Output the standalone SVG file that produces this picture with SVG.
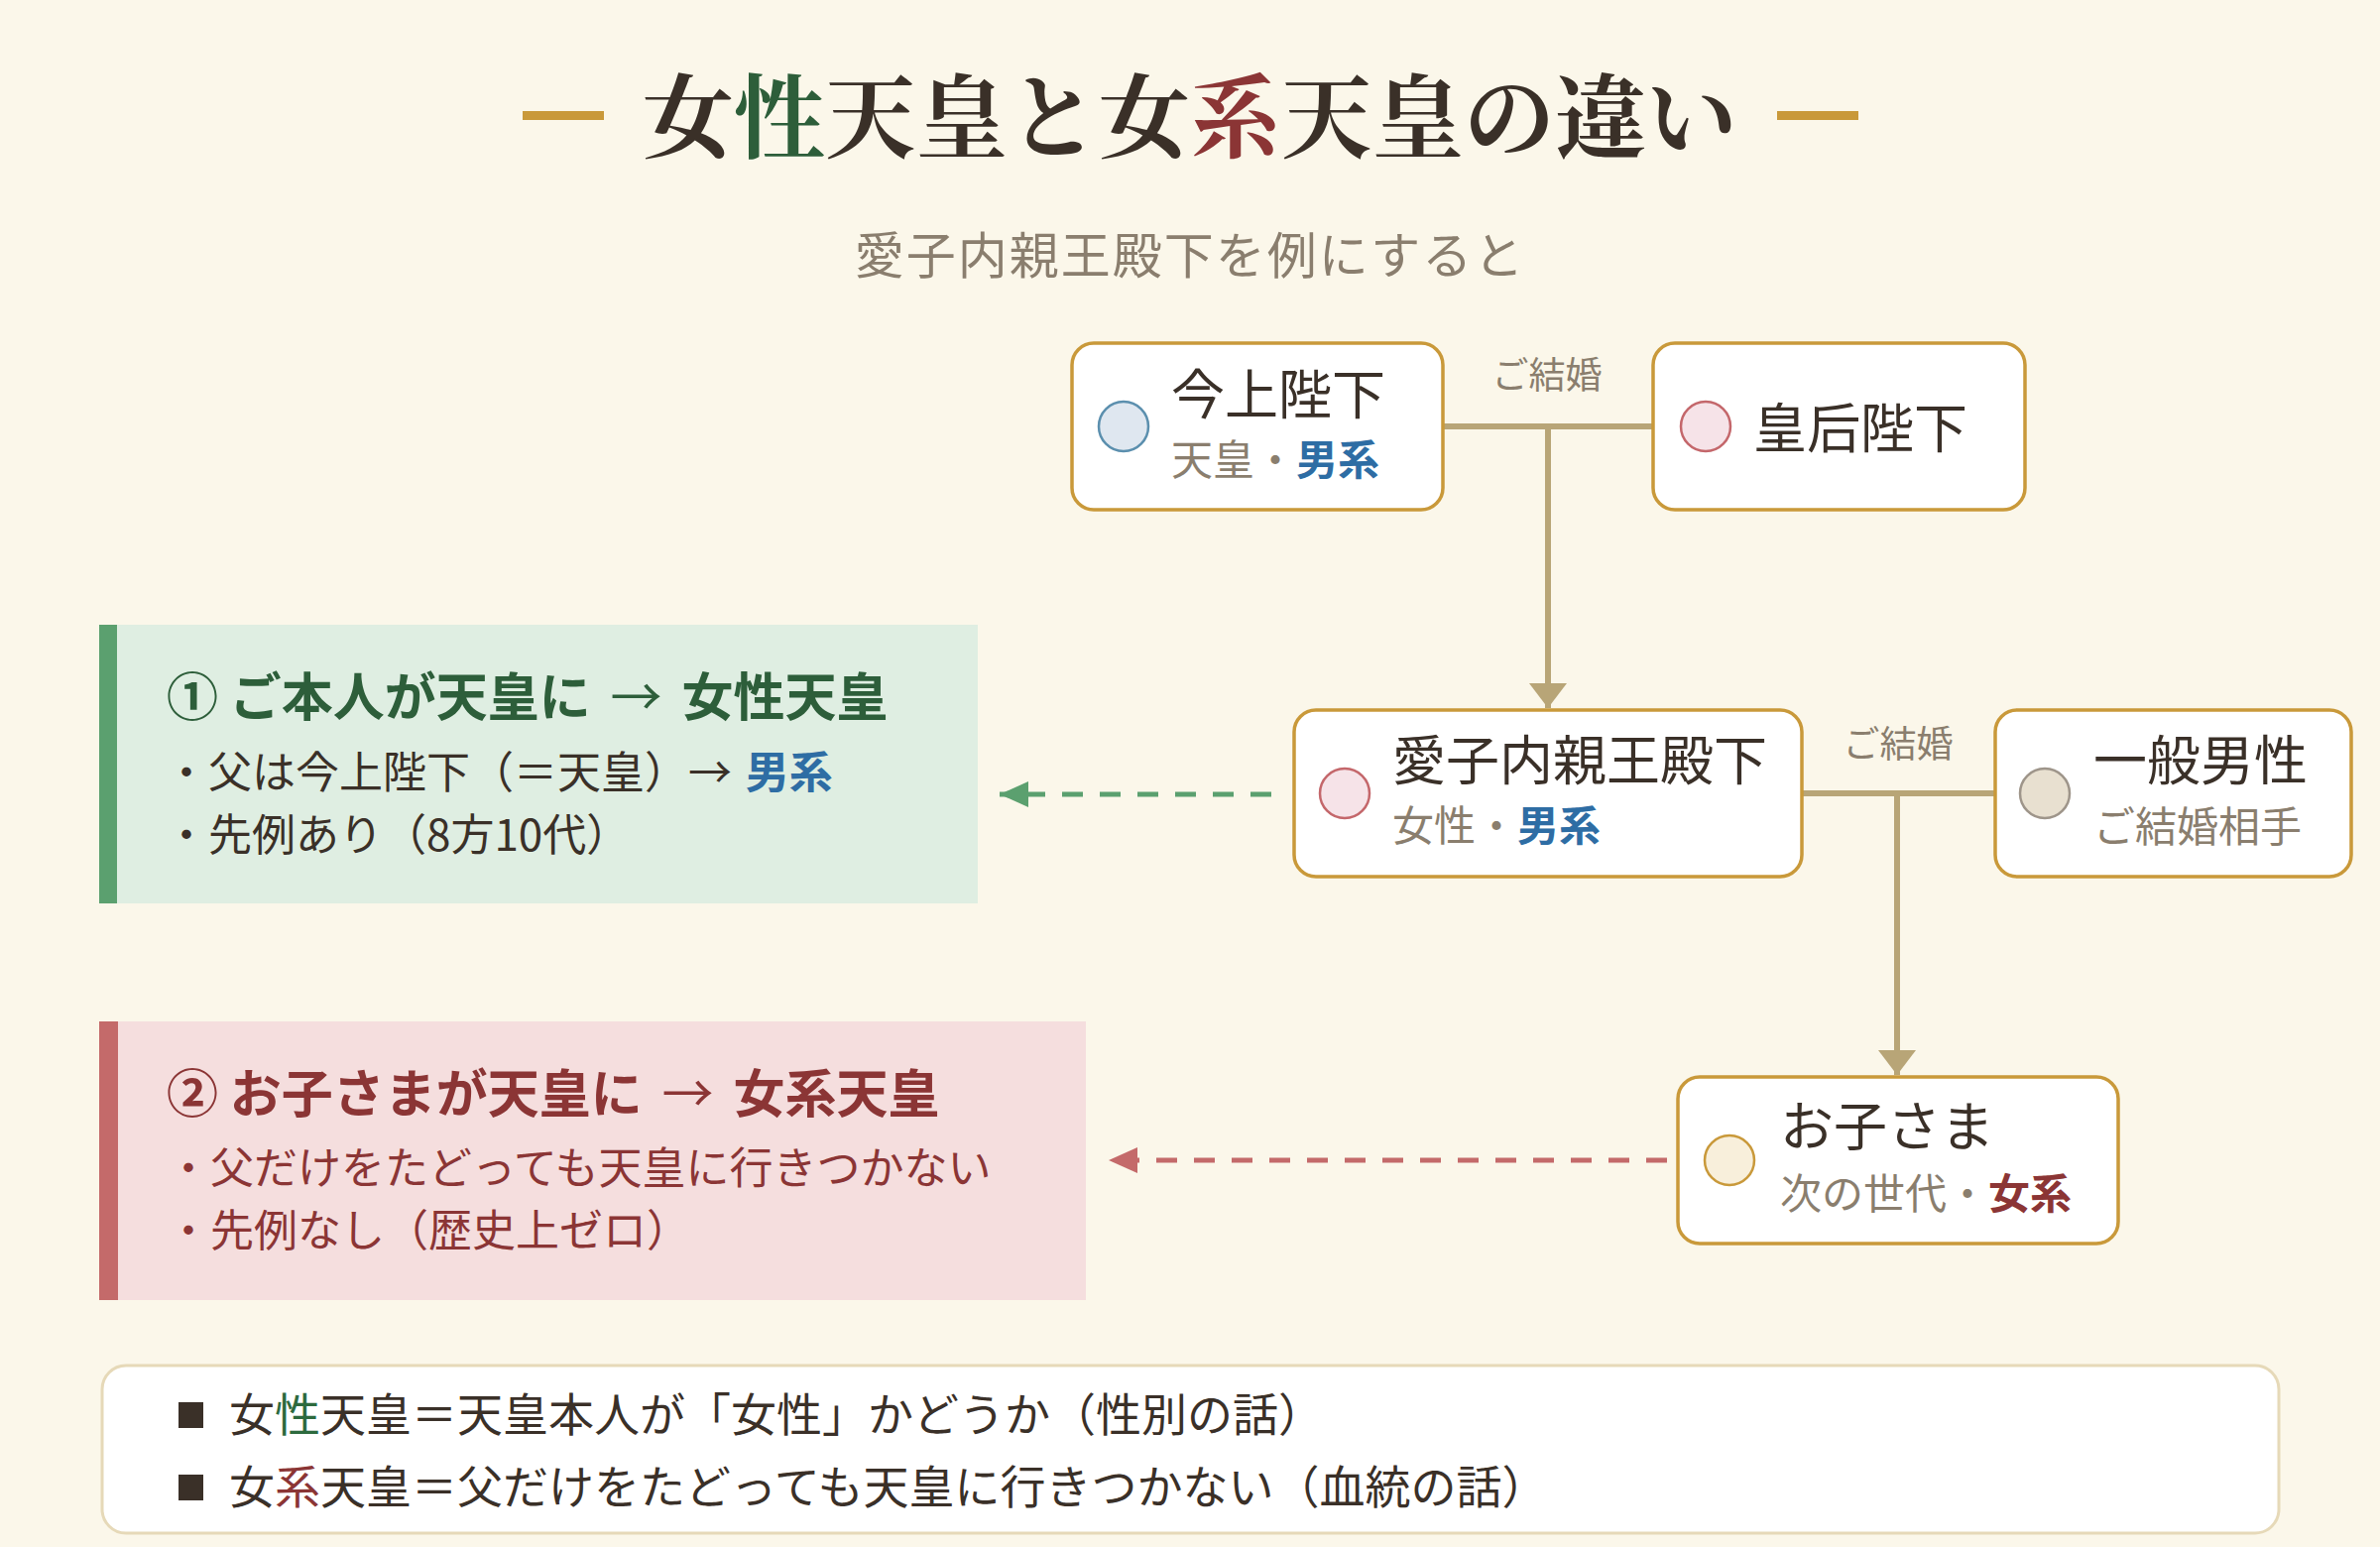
<svg xmlns="http://www.w3.org/2000/svg" width="2400" height="1560" viewBox="0 0 2400 1560">
<style>
text{font-family:"Noto Sans CJK JP","Noto Sans",sans-serif;}
.title{font-family:"Noto Serif CJK JP","Noto Sans CJK JP",serif;font-size:92px;font-weight:700;fill:#3A3028;}
.sub{font-size:50px;fill:#8A7E6E;letter-spacing:2px;}
.box{fill:#FFFFFF;stroke:#C9993A;stroke-width:3.5;}
.name{font-size:54px;fill:#3A3028;}
.note{font-size:42px;fill:#8A7E6E;}
.blue{fill:#2E6DA4;font-weight:700;}
.redb{fill:#8B3535;font-weight:700;}
.wed{font-size:37px;fill:#8A7E6E;}
.line{stroke:#B8A577;stroke-width:6;fill:none;}
.ptitle{font-size:52px;font-weight:700;}
.thin{font-weight:400;}
.pline{font-size:44px;}
.foot{font-size:46px;fill:#3A3028;}
</style>
<defs>
<marker id="ah" viewBox="0 0 25 38" refX="25" refY="19" markerWidth="25" markerHeight="38" markerUnits="userSpaceOnUse" orient="auto"><path d="M0,0 L25,19 L0,38 Z" fill="#B8A577"/></marker>
<marker id="ag" viewBox="0 0 29 26" refX="29" refY="13" markerWidth="29" markerHeight="26" markerUnits="userSpaceOnUse" orient="auto"><path d="M0,0 L29,13 L0,26 Z" fill="#5BA06F"/></marker>
<marker id="ar" viewBox="0 0 29 26" refX="29" refY="13" markerWidth="29" markerHeight="26" markerUnits="userSpaceOnUse" orient="auto"><path d="M0,0 L29,13 L0,26 Z" fill="#C46A6A"/></marker>
</defs>
<rect width="2400" height="1560" fill="#FBF7EA"/>

<g id="title">
<rect x="527" y="112" width="82" height="9" fill="#C9993A"/>
<rect x="1792" y="112" width="82" height="9" fill="#C9993A"/>
<text class="title" x="1200" y="152" text-anchor="middle">女<tspan fill="#2D5E3A">性</tspan>天皇と女<tspan fill="#8B3535">系</tspan>天皇の違い</text>
<text class="sub" x="1200" y="276" text-anchor="middle">愛子内親王殿下を例にすると</text>
</g>

<g id="connectors">
<line class="line" x1="1455" y1="430" x2="1667" y2="430"/>
<line class="line" x1="1561" y1="430" x2="1561" y2="714" marker-end="url(#ah)"/>
<line class="line" x1="1817" y1="800" x2="2012" y2="800"/>
<line class="line" x1="1913" y1="800" x2="1913" y2="1084" marker-end="url(#ah)"/>
<text class="wed" x="1560" y="392" text-anchor="middle">ご結婚</text>
<text class="wed" x="1914" y="764" text-anchor="middle">ご結婚</text>
<line x1="1282" y1="801" x2="1008" y2="801" stroke="#5BA06F" stroke-width="5" stroke-dasharray="21 17" marker-end="url(#ag)"/>
<line x1="1681" y1="1170" x2="1118" y2="1170" stroke="#C46A6A" stroke-width="5" stroke-dasharray="21 17" marker-end="url(#ar)"/>
</g>

<g id="node-kinjo">
<rect class="box" x="1081" y="346" width="374" height="168" rx="22"/>
<circle cx="1133" cy="430" r="25" fill="#DFE7F0" stroke="#5B8FAE" stroke-width="2.5"/>
<text class="name" x="1181" y="418">今上陛下</text>
<text class="note" x="1181" y="479">天皇・<tspan class="blue">男系</tspan></text>
</g>

<g id="node-kogo">
<rect class="box" x="1667" y="346" width="375" height="168" rx="22"/>
<circle cx="1720" cy="430" r="25" fill="#F6E3E8" stroke="#C4676B" stroke-width="2.5"/>
<text class="name" x="1768" y="452">皇后陛下</text>
</g>

<g id="node-aiko">
<rect class="box" x="1305" y="716" width="512" height="168" rx="22"/>
<circle cx="1356" cy="800" r="25" fill="#F6E3E8" stroke="#C4676B" stroke-width="2.5"/>
<text class="name" x="1404" y="787" font-size="52">愛子内親王殿下</text>
<text class="note" x="1404" y="848">女性・<tspan class="blue">男系</tspan></text>
</g>

<g id="node-ippan">
<rect class="box" x="2012" y="716" width="359" height="168" rx="22"/>
<circle cx="2062" cy="800" r="25" fill="#E8E0D0" stroke="#9E958A" stroke-width="2.5"/>
<text class="name" x="2111" y="787" font-size="52">一般男性</text>
<text class="note" x="2111" y="849">ご結婚相手</text>
</g>

<g id="node-okosama">
<rect class="box" x="1692" y="1086" width="444" height="168" rx="22"/>
<circle cx="1744" cy="1170" r="25" fill="#F8EFDB" stroke="#C9993A" stroke-width="2.5"/>
<text class="name" x="1795" y="1156">お子さま</text>
<text class="note" x="1795" y="1219">次の世代・<tspan class="redb">女系</tspan></text>
</g>

<g id="panel-josei">
<rect x="100" y="630" width="886" height="281" fill="#DFEEE2"/>
<rect x="100" y="630" width="18" height="281" fill="#5BA06F"/>
<text class="ptitle" x="168" y="722" fill="#2D5E3A">① ご本人が天皇に <tspan class="thin" dx="8">→</tspan> <tspan dx="8">女性天皇</tspan></text>
<text class="pline" x="166" y="795" fill="#3A3028">・父は今上陛下（＝天皇）→ <tspan class="blue" dx="4">男系</tspan></text>
<text class="pline" x="166" y="858" fill="#3A3028">・先例あり（8方10代）</text>
</g>

<g id="panel-jokei">
<rect x="100" y="1030" width="995" height="281" fill="#F5DEDE"/>
<rect x="100" y="1030" width="19" height="281" fill="#C46A6A"/>
<text class="ptitle" x="168" y="1122" fill="#8B3535">② お子さまが天皇に <tspan class="thin" dx="8">→</tspan> <tspan dx="8">女系天皇</tspan></text>
<text class="pline" x="168" y="1194" fill="#8B3535">・父だけをたどっても天皇に行きつかない</text>
<text class="pline" x="168" y="1257" fill="#8B3535">・先例なし（歴史上ゼロ）</text>
</g>

<g id="summary">
<rect x="103" y="1377" width="2195" height="169" rx="24" fill="#FFFFFF" stroke="#E6D9B8" stroke-width="3"/>
<rect x="180" y="1414" width="25" height="26" fill="#3A3028"/>
<rect x="180" y="1487" width="25" height="26" fill="#3A3028"/>
<text class="foot" x="231" y="1443">女<tspan fill="#2D6A3E">性</tspan>天皇＝天皇本人が「女性」かどうか（性別の話）</text>
<text class="foot" x="231" y="1516">女<tspan fill="#8B3535">系</tspan>天皇＝父だけをたどっても天皇に行きつかない（血統の話）</text>
</g>
</svg>
